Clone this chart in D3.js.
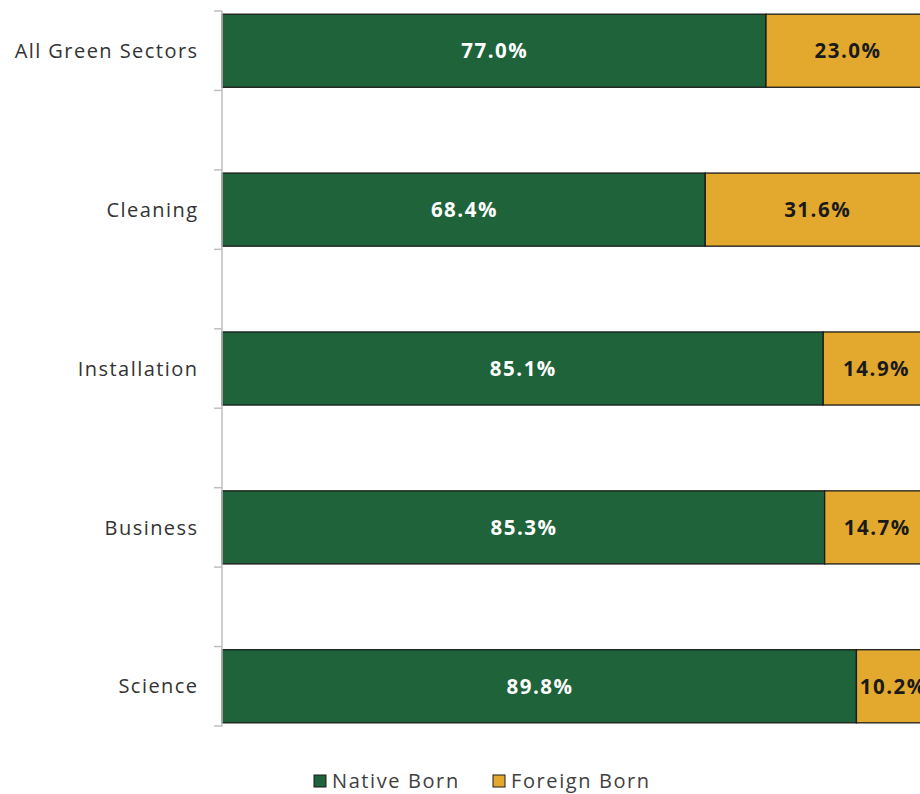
<!DOCTYPE html>
<html><head><meta charset="utf-8">
<script src="https://cdn.jsdelivr.net/npm/d3@7"></script>
<style>body{margin:0;background:#fff}svg{display:block}</style>
</head><body><svg id="c" width="920" height="794"></svg>
<script>
const categories = ["All Green Sectors","Cleaning","Installation","Business","Science"];
const nativeBorn = [77.0, 68.4, 85.1, 85.3, 89.8];
const foreignBorn = [23.0, 31.6, 14.9, 14.7, 10.2];
const seriesNames = ["Native Born","Foreign Born"];
const colors = ["#1e633a","#e3a92e"];
const labelColors = ["#ffffff","#1a1a1a"];

(function(){
const svg = d3.select("#c");
const font = "'Open Sans', sans-serif";
const plotLeft = 222, plotRight = 928.5, plotTop = 11, plotBottom = 726;

const slots = [];
categories.forEach((c,i)=>{ slots.push(c); if(i<categories.length-1) slots.push("__gap"+i); });
const pad = 0.08;
const y = d3.scaleBand().domain(slots).range([plotTop,plotBottom]).paddingInner(pad).paddingOuter(pad/2);
const x = d3.scaleLinear().domain([0,100]).range([plotLeft,plotRight]);
const step = y.step();

const data = categories.map((c,i)=>({cat:c, vals:[nativeBorn[i], foreignBorn[i]]}));

data.forEach(d=>{
  let x0 = 0;
  d.vals.forEach((v,j)=>{
    const g = svg.append("g");
    g.append("rect").attr("x",x(x0)).attr("y",y(d.cat)).attr("width",x(x0+v)-x(x0)).attr("height",y.bandwidth())
      .attr("fill",colors[j]).attr("stroke","#1a1a1a").attr("stroke-width",1.3);
    g.append("text").attr("x",(x(x0)+x(x0+v))/2 + 0.75).attr("y",y(d.cat)+y.bandwidth()/2)
      .attr("dy","0.36em").attr("text-anchor","middle").attr("font-family",font)
      .attr("font-weight","bold").attr("font-size",20.5).attr("letter-spacing",1.5).attr("fill",labelColors[j])
      .text(v.toFixed(1)+"%");
    x0 += v;
  });
});

const ax = svg.append("g").attr("stroke","#bfbfbf").attr("stroke-width",1.5);
ax.append("line").attr("x1",plotLeft).attr("x2",plotLeft).attr("y1",plotTop).attr("y2",plotBottom);
const tickYs = slots.map(s=>y(s)-step*pad/2).concat([plotBottom]);
tickYs.forEach(t=>ax.append("line").attr("x1",plotLeft-8).attr("x2",plotLeft).attr("y1",t).attr("y2",t));

categories.forEach(c=>{
  svg.append("text").attr("x",198.5).attr("y",y(c)+y.bandwidth()/2).attr("dy","0.36em")
    .attr("text-anchor","end").attr("font-family",font).attr("font-size",20).attr("letter-spacing",1.45).attr("fill","#333")
    .text(c);
});

const legX = [314, 493];
seriesNames.forEach((n,j)=>{
  svg.append("rect").attr("x",legX[j]).attr("y",775).attr("width",12).attr("height",12)
    .attr("fill",colors[j]).attr("stroke","#1a1a1a").attr("stroke-width",1);
  svg.append("text").attr("x",legX[j]+18).attr("y",781).attr("dy","0.36em")
    .attr("font-family",font).attr("font-size",20).attr("fill","#404040").attr("letter-spacing",1.6).text(n);
});
})();
</script></body></html>
